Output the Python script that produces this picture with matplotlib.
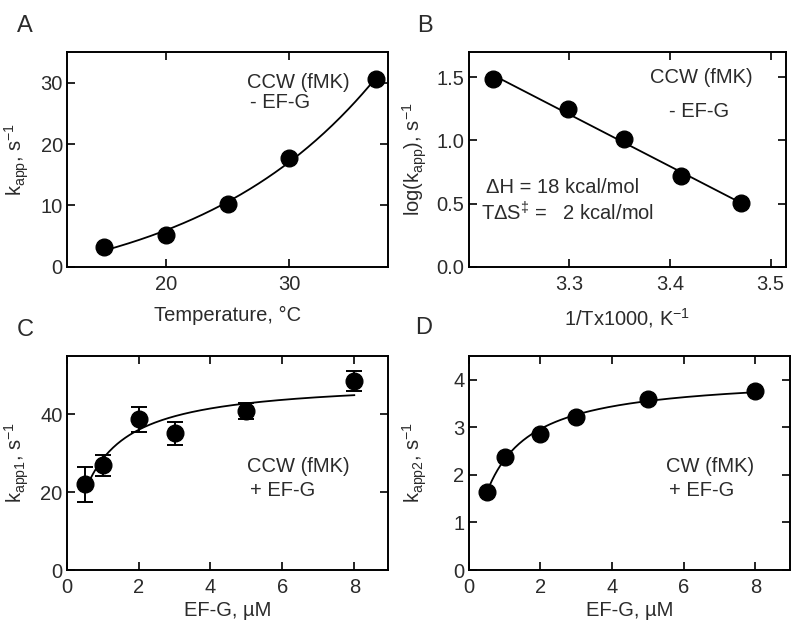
import numpy as np
import matplotlib
matplotlib.use("Agg")
import matplotlib.pyplot as plt

plt.rcParams['font.family'] = ['Liberation Sans', 'DejaVu Sans']
plt.rcParams['mathtext.default'] = 'regular'

# panel A / B : temperature dependence, CCW (fMK) - EF-G
temps = np.array([15, 20, 25, 30, 37])
k_app = np.array([3.2, 5.2, 10.2, 17.8, 30.6])

# panel C : CCW (fMK) + EF-G
ef_c = np.array([0.5, 1, 2, 3, 5, 8])
k_app1 = np.array([22.0, 26.9, 38.7, 35.1, 40.8, 48.5])
k_app1_err = np.array([4.5, 2.7, 3.2, 3.0, 2.0, 2.5])

# panel D : CW (fMK) + EF-G
ef_d = np.array([0.5, 1, 2, 3, 5, 8])
k_app2 = np.array([1.64, 2.38, 2.86, 3.21, 3.60, 3.76])

TXT = '#2b2b2b'
W, H = 791, 628


def box(l, t, r, b):
    return [l / W, 1 - b / H, (r - l) / W, (b - t) / H]


def hyperbola_fit(x, y):
    # simple least squares: grid over K, kmax solved linearly
    best = None
    for K in np.linspace(0.05, 5, 2000):
        f = x / (K + x)
        kmax = np.sum(y * f) / np.sum(f * f)
        res = np.sum((y - kmax * f) ** 2)
        if best is None or res < best[0]:
            best = (res, K, kmax)
    return best[1], best[2]


def exp_fit(x, y):
    # y = a*exp(b*x) + c, least squares (grid over b, a and c linear)
    best = None
    for b in np.linspace(0.01, 0.2, 2000):
        M = np.column_stack([np.exp(b * x), np.ones_like(x, dtype=float)])
        coef, *_ = np.linalg.lstsq(M, y, rcond=None)
        res = np.sum((y - M @ coef) ** 2)
        if best is None or res < best[0]:
            best = (res, coef[0], b, coef[1])
    return best[1], best[2], best[3]


def style(ax):
    for s in ax.spines.values():
        s.set_linewidth(1.4)
    ax.tick_params(direction='in', length=6, width=1.2, top=True, right=True,
                   labelsize=14.5, labelcolor=TXT)
    ax.tick_params(axis='x', pad=6)
    ax.tick_params(axis='y', pad=3)


fig = plt.figure(figsize=(W / 100, H / 100), dpi=100)

axA = fig.add_axes(box(67, 52, 388.3, 266.7))
axB = fig.add_axes(box(468.7, 52, 785.7, 266.7))
axC = fig.add_axes(box(66.7, 355.7, 387.7, 570))
axD = fig.add_axes(box(468.7, 355.7, 790, 570))

mk = dict(marker='o', ms=12, color='black', ls='none', zorder=3)

# A
aA, bA, cA = exp_fit(temps, k_app)
tt = np.linspace(temps.min(), temps.max(), 200)
axA.plot(tt, aA * np.exp(bA * tt) + cA, color='black', lw=1.3)
axA.plot(temps, k_app, **mk)
axA.set_xlim(12, 38)
axA.set_ylim(0, 35)
axA.set_xticks([20, 30])
axA.set_yticks([0, 10, 20, 30])
axA.set_xlabel('Temperature, °C', fontsize=14.5, color=TXT)
axA.set_ylabel(r'k$_{app}$, s$^{-1}$', fontsize=14.5, color=TXT)
axA.xaxis.set_label_coords(0.5, -0.185)
axA.yaxis.set_label_coords(-0.112, 0.5)
axA.text(0.56, 0.86, 'CCW (fMK)', transform=axA.transAxes, fontsize=14.5,
         color=TXT, ha='left', va='center')
axA.text(0.569, 0.767, '- EF-G', transform=axA.transAxes, fontsize=14.5,
         color=TXT, ha='left', va='center')

# B
inv_t = 1000.0 / (temps + 273.15)
log_k = np.log10(k_app)
pB = np.polyfit(inv_t, log_k, 1)
xx = np.linspace(inv_t.min(), inv_t.max(), 50)
axB.plot(xx, np.polyval(pB, xx), color='black', lw=1.3)
axB.plot(inv_t, log_k, **mk)
axB.set_xlim(3.2, 3.515)
axB.set_ylim(0, 1.7)
axB.set_xticks([3.3, 3.4, 3.5])
axB.set_yticks([0, 0.5, 1.0, 1.5])
axB.set_yticklabels(['0.0', '0.5', '1.0', '1.5'])
axB.set_xlabel(r'1/Tx1000, K$^{-1}$', fontsize=14.5, color=TXT)
axB.set_ylabel(r'log(k$_{app}$), s$^{-1}$', fontsize=14.5, color=TXT)
axB.xaxis.set_label_coords(0.5, -0.185)
axB.yaxis.set_label_coords(-0.125, 0.5)
axB.text(0.572, 0.879, 'CCW (fMK)', transform=axB.transAxes, fontsize=14.5,
         color=TXT, ha='left', va='center')
axB.text(0.632, 0.725, '- EF-G', transform=axB.transAxes, fontsize=14.5,
         color=TXT, ha='left', va='center')
axB.text(0.0546, 0.367, 'ΔH = 18 kcal/mol', transform=axB.transAxes,
         fontsize=14.5, color=TXT, ha='left', va='center')
axB.text(0.0388, 0.25, r'TΔS$^{‡}$ =   2 kcal/mol', transform=axB.transAxes,
         fontsize=14.5, color=TXT, ha='left', va='center')

# C
Kc, kmc = hyperbola_fit(ef_c, k_app1)
xc = np.linspace(ef_c.min(), ef_c.max(), 200)
axC.plot(xc, kmc * xc / (Kc + xc), color='black', lw=1.3)
axC.errorbar(ef_c, k_app1, yerr=k_app1_err, fmt='o', ms=12, color='black',
             ecolor='black', elinewidth=1.4, capsize=6, capthick=1.4, zorder=3)
axC.set_xlim(0, 8.93)
axC.set_ylim(0, 55)
axC.set_xticks([0, 2, 4, 6, 8])
axC.set_yticks([0, 20, 40])
axC.set_xlabel('EF-G, µM', fontsize=14.5, color=TXT)
axC.set_ylabel(r'k$_{app1}$, s$^{-1}$', fontsize=14.5, color=TXT)
axC.xaxis.set_label_coords(0.5, -0.145)
axC.yaxis.set_label_coords(-0.112, 0.5)
axC.text(0.562, 0.481, 'CCW (fMK)', transform=axC.transAxes, fontsize=14.5,
         color=TXT, ha='left', va='center')
axC.text(0.571, 0.373, '+ EF-G', transform=axC.transAxes, fontsize=14.5,
         color=TXT, ha='left', va='center')

# D
Kd, kmd = hyperbola_fit(ef_d, k_app2)
xd = np.linspace(ef_d.min(), ef_d.max(), 200)
axD.plot(xd, kmd * xd / (Kd + xd), color='black', lw=1.3)
axD.plot(ef_d, k_app2, **mk)
axD.set_xlim(0, 8.97)
axD.set_ylim(0, 4.5)
axD.set_xticks([0, 2, 4, 6, 8])
axD.set_yticks([0, 1, 2, 3, 4])
axD.set_xlabel('EF-G, µM', fontsize=14.5, color=TXT)
axD.set_ylabel(r'k$_{app2}$, s$^{-1}$', fontsize=14.5, color=TXT)
axD.xaxis.set_label_coords(0.5, -0.145)
axD.yaxis.set_label_coords(-0.125, 0.5)
axD.text(0.614, 0.481, 'CW (fMK)', transform=axD.transAxes, fontsize=14.5,
         color=TXT, ha='left', va='center')
axD.text(0.623, 0.373, '+ EF-G', transform=axD.transAxes, fontsize=14.5,
         color=TXT, ha='left', va='center')

for ax in (axA, axB, axC, axD):
    style(ax)

for lbl, x, y in (('A', 25, 26.5), ('B', 425, 26.5), ('C', 25, 330), ('D', 424, 328)):
    fig.text(x / W, 1 - y / H, lbl, fontsize=17, color=TXT, ha='center', va='center')

fig.savefig('out.png', dpi=100)
